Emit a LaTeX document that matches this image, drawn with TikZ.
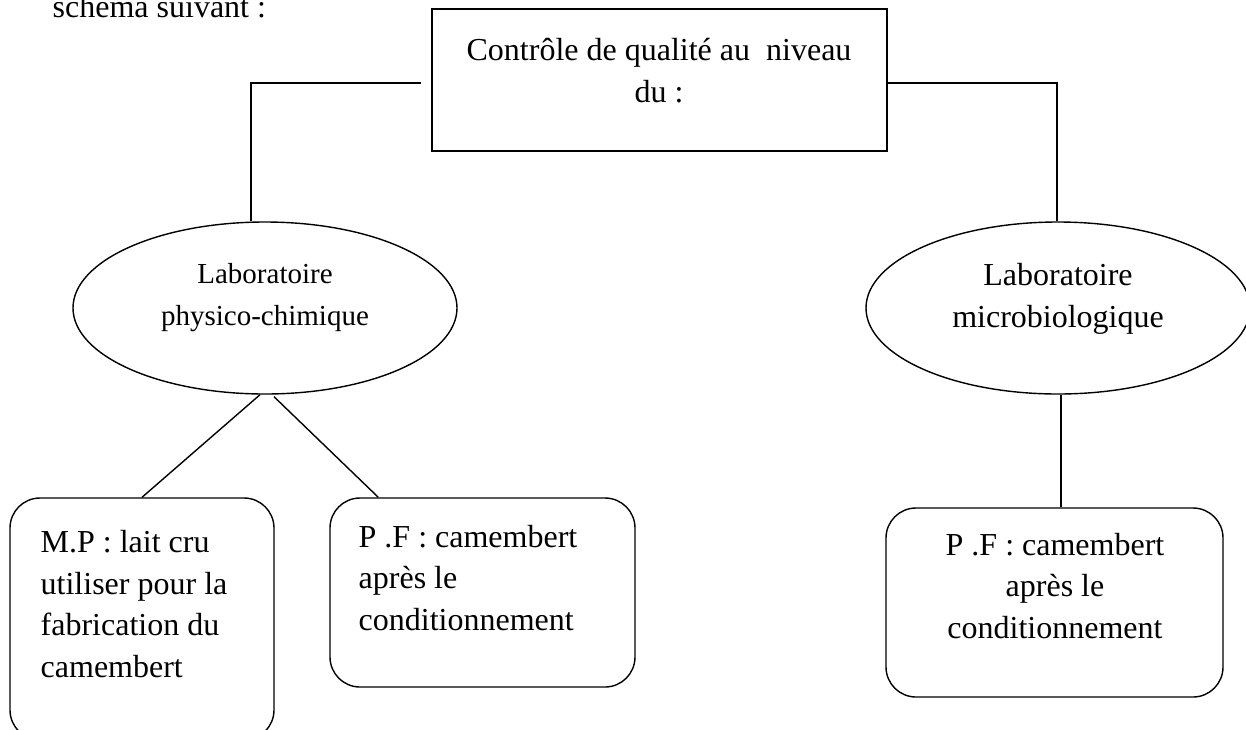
\documentclass[tikz,border=0pt]{standalone}
\usepackage{fontspec}
\setmainfont{Liberation Serif}
\usetikzlibrary{shapes.geometric, calc}

\begin{document}
\begin{tikzpicture}[x=1pt, y=-1pt, line width=1.4pt,
        boite/.style={draw, rectangle, inner sep=0pt},
        bulle/.style={draw, ellipse, inner sep=0pt, minimum width=384pt, minimum height=172pt},
        arrondi/.style={draw, rectangle, rounded corners=30pt, inner sep=0pt},
        texte/.style={font=\fontsize{32}{41.5}\selectfont, inner sep=0pt}]
        \useasboundingbox (0,0) rectangle (1246,729);
        \node[texte, anchor=base west] (intro) at (52,17) {schéma suivant :};

        % boite du haut
        \node[boite, minimum width=455pt, minimum height=142pt] (ctrl) at (659.5,80) {};
        \node[texte, align=center, anchor=base] (titre) at (659,102) {Contrôle de qualité au~ niveau\\du :};

        % les deux laboratoires
        \node[bulle] (phys) at (265,308) {};
        \node[texte, font=\fontsize{29}{42}\selectfont, align=center, anchor=base] (tphys) at (265,325) {Laboratoire\\physico-chimique};
        \node[bulle] (micro) at (1058,308) {};
        \node[texte, align=center, anchor=base] (tmicro) at (1058,327) {Laboratoire\\microbiologique};

        % les echantillons
        \node[arrondi, minimum width=264pt, minimum height=242pt] (mp) at (142,619) {};
        \node[texte, align=left, anchor=base west] (tmp) at (40,677) {M.P : lait cru\\utiliser pour la\\fabrication du\\camembert};
        \node[arrondi, minimum width=305pt, minimum height=189pt] (pf1) at (482.5,592.5) {};
        \node[texte, align=left, anchor=base west] (tpf1) at (358,630) {P .F : camembert\\après le\\conditionnement};
        \node[arrondi, minimum width=337pt, minimum height=189pt] (pf2) at (1054.5,602.5) {};
        \node[texte, align=center, anchor=base] (tpf2) at (1055,638) {P .F : camembert\\après le\\conditionnement};

        % liaisons
        \coordinate (cl) at (251,83);
        \coordinate (cr) at (1057,83);
        \draw[shorten <=10pt] (ctrl.west |- cl) -- (cl) -- (cl |- phys.north);
        \draw (ctrl.east |- cr) -- (cr) -- (cr |- micro.north);
        \draw ([xshift=-5pt]phys.south) -- (mp.north);
        \draw ([xshift=9pt,yshift=-2pt]phys.south) -- ([xshift=49pt]pf1.north west);
        \draw (micro.south -| 1061,0) -- (pf2.north -| 1061,0);
\end{tikzpicture}
\end{document}
